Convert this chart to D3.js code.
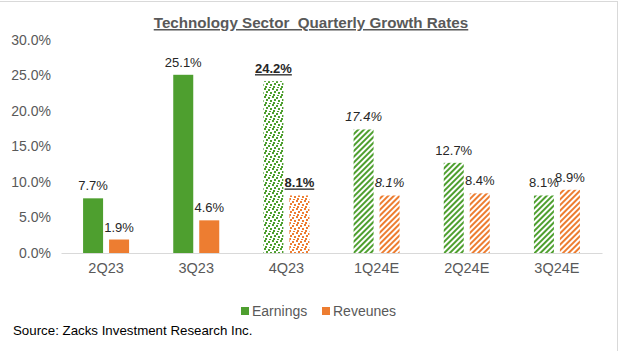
<!DOCTYPE html>
<html>
<head>
<meta charset="utf-8">
<title>Technology Sector Quarterly Growth Rates</title>
<script src="https://d3js.org/d3.v7.min.js"></script>
<style>
  body { margin: 0; background: #fff; }
  text { font-family: "Liberation Sans", Arial, sans-serif; }
</style>
</head>
<body>
<script>
var quarters = ["2Q23", "3Q23", "4Q23", "1Q24E", "2Q24E", "3Q24E"];
var earnings = [7.7, 25.1, 24.2, 17.4, 12.7, 8.1];
var revenues = [1.9, 4.6, 8.1, 8.1, 8.4, 8.9];
// fill style per quarter: solid, confetti (current), stripes (estimates)
var fillKind = ["solid", "solid", "dots", "stripe", "stripe", "stripe"];
var labelStyle = ["normal", "normal", "bold", "italic", "normal", "normal"];
var yTicks = [0, 5, 10, 15, 20, 25, 30];
var seriesNames = ["Earnings", "Reveunes"];

var green = "#4e9f2f", orange = "#ed7d31";
var W = 620, H = 351;

var svg = d3.select("body").append("svg")
    .attr("width", W).attr("height", H);

var defs = svg.append("defs");
[["g", green], ["o", orange]].forEach(function(c) {
    var p = defs.append("pattern").attr("id", "stripe-" + c[0])
        .attr("patternUnits", "userSpaceOnUse")
        .attr("width", 4).attr("height", 4)
        .attr("patternTransform", "rotate(45)");
    p.append("rect").attr("width", 4).attr("height", 4).attr("fill", "#fff");
    p.append("rect").attr("width", 2).attr("height", 4).attr("fill", c[1]);

    var d = defs.append("pattern").attr("id", "dots-" + c[0])
        .attr("patternUnits", "userSpaceOnUse")
        .attr("width", 8).attr("height", 8);
    d.append("rect").attr("width", 8).attr("height", 8).attr("fill", "#fff");
    [[0,0],[4,1],[2,3],[6,4],[1,6],[5,7]].forEach(function(q) {
        d.append("rect").attr("x", q[0]).attr("y", q[1])
            .attr("width", 2).attr("height", 2).attr("fill", c[1]);
    });
});

// frame lines at the top and right edge
svg.append("line").attr("x1", 0).attr("x2", 617).attr("y1", 1.5).attr("y2", 1.5)
    .attr("stroke", "#d9d9d9");
svg.append("line").attr("x1", 617.5).attr("x2", 617.5).attr("y1", 1).attr("y2", H)
    .attr("stroke", "#d9d9d9");

var x = d3.scaleBand().domain(quarters).range([61, 602]);
var y = d3.scaleLinear().domain([0, 30]).range([253, 40]);
var barW = 20, gap = 6;

svg.append("text")
    .attr("x", 311).attr("y", 28)
    .attr("text-anchor", "middle")
    .attr("font-size", 15.2).attr("font-weight", "bold")
    .attr("fill", "#595959")
    .attr("text-decoration", "underline")
    .style("white-space", "pre")
    .text("Technology Sector  Quarterly Growth Rates");

var yAxis = svg.append("g")
    .attr("transform", "translate(61,0)")
    .call(d3.axisLeft(y).tickValues(yTicks).tickSize(0).tickPadding(10)
        .tickFormat(function(d) { return d.toFixed(1) + "%"; }));
yAxis.select(".domain").remove();
yAxis.selectAll("text").attr("font-size", 14).attr("fill", "#595959")
    .attr("font-family", "Liberation Sans, Arial, sans-serif");

var xAxis = svg.append("g")
    .attr("transform", "translate(0,253)")
    .call(d3.axisBottom(x).tickSize(0).tickPadding(10));
xAxis.select(".domain").attr("stroke", "#d9d9d9");
xAxis.selectAll("text").attr("font-size", 14.5).attr("fill", "#595959")
    .attr("font-family", "Liberation Sans, Arial, sans-serif");

function fillFor(i, key, color) {
    if (fillKind[i] === "solid") return color;
    return "url(#" + fillKind[i] + "-" + key + ")";
}

var series = [
    { vals: earnings, key: "g", color: green, off: -gap / 2 - barW },
    { vals: revenues, key: "o", color: orange, off: gap / 2 }
];

series.forEach(function(s) {
    var cx = function(d, i) { return x(quarters[i]) + x.bandwidth() / 2 + s.off; };
    svg.append("g").selectAll("rect").data(s.vals).join("rect")
        .attr("x", cx)
        .attr("y", function(d) { return y(d); })
        .attr("width", barW)
        .attr("height", function(d) { return y(0) - y(d); })
        .attr("fill", function(d, i) { return fillFor(i, s.key, s.color); });

    svg.append("g").selectAll("text").data(s.vals).join("text")
        .attr("x", function(d, i) { return cx(d, i) + barW / 2; })
        .attr("y", function(d) { return y(d) - 8; })
        .attr("text-anchor", "middle")
        .attr("font-size", 13)
        .attr("fill", "#262626")
        .attr("font-weight", function(d, i) { return labelStyle[i] === "bold" ? "bold" : "normal"; })
        .attr("font-style", function(d, i) { return labelStyle[i] === "italic" ? "italic" : "normal"; })
        .attr("text-decoration", function(d, i) { return labelStyle[i] === "bold" ? "underline" : "none"; })
        .text(function(d) { return d.toFixed(1) + "%"; });
});

// legend
var legend = svg.append("g").attr("transform", "translate(241,307)");
var lx = [0, 81];
seriesNames.forEach(function(n, i) {
    legend.append("rect").attr("x", lx[i]).attr("y", 0)
        .attr("width", 8).attr("height", 8)
        .attr("fill", i === 0 ? green : orange);
    legend.append("text").attr("x", lx[i] + 11).attr("y", 8.5)
        .attr("font-size", 14).attr("fill", "#595959")
        .attr("font-family", "Liberation Sans Narrow, Liberation Sans, Arial, sans-serif")
        .text(n);
});

svg.append("text")
    .attr("x", 13).attr("y", 335)
    .attr("font-size", 13.3).attr("fill", "#000")
    .text("Source: Zacks Investment Research Inc.");
</script>
</body>
</html>
